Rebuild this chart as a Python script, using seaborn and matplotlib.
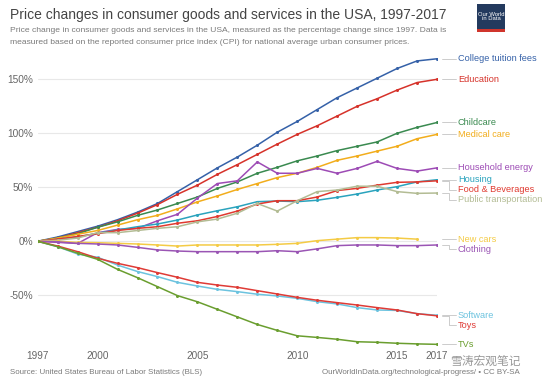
import numpy as np
import pandas as pd
import matplotlib.pyplot as plt
import seaborn as sns
from matplotlib.patches import Rectangle

# yearly % change since 1997
years = list(range(1997, 2018))
college_tuition = [0, 4, 9, 14, 20, 27, 35, 46, 57, 68, 78, 89, 101, 111, 122, 133, 142, 151, 160, 167, 169]
education = [0, 3, 8, 13, 19, 26, 34, 43.5, 52, 62, 71, 80.5, 90, 99, 107, 116, 125, 132, 140, 147, 150]
childcare = [0, 3, 7, 13, 18, 24, 29, 35, 41, 49, 55, 63, 68.5, 74.5, 79, 84, 88, 92, 100, 105.5, 110]
medical_care = [0, 3, 6.5, 10, 15, 20, 24, 30, 36.5, 42, 48, 53.5, 59, 63, 68.5, 75, 79, 83.5, 88, 95, 99]
household_energy = [0, -1, -2, 8, 11, 12, 19, 25, 40, 53.5, 56, 73.5, 63, 63, 67.5, 63, 67.5, 74, 67.5, 65, 68]
housing = [0, 2, 4, 7.5, 10.5, 13.5, 16, 19.7, 24.4, 28.3, 32, 36.7, 37.3, 36.7, 38, 40.7, 43.8, 47.5, 50.6, 55, 57]
food_beverages = [0, 2, 4.5, 7, 10, 12, 13.5, 16.7, 19, 23, 28, 34.5, 37.6, 37.6, 41, 47, 49, 52, 54.6, 55, 56]
public_transport = [0, 1, 3, 8, 8, 10, 12, 13.5, 18, 20.6, 26, 35, 28, 37.6, 46, 47.5, 51, 51, 46, 44.4, 44.7]
new_cars = [0, 0, -1, -1.3, -1.9, -2.5, -3.4, -4.4, -3.4, -3.4, -3.4, -3.4, -2.8, -1.9, 0.6, 2, 3.4, 3.4, 3, 2, None]
clothing = [0, -0.5, -1.9, -2.5, -3.4, -5.6, -8, -9, -9.6, -9.6, -9.6, -9.6, -8.7, -9.6, -7, -4, -3.4, -3.4, -4, -4, -3.4]
software = [0, -5, -11.8, -14.8, -22, -28, -32.7, -38, -41.4, -44.5, -46.6, -49, -50.6, -52.8, -55.9, -58, -61.4, -63.6, -64, -67, -68.5]
toys = [0, -4.4, -9.6, -15.7, -20.4, -24.4, -29, -33.3, -38, -40.5, -42.6, -45.7, -48.8, -51.9, -54.6, -56.8, -59, -61.4, -63.6, -67, -69]
tvs = [0, -5, -11, -16.7, -26, -33.7, -42, -50.3, -56, -63, -70, -77, -82.5, -87.5, -89, -90.7, -93, -93.5, -94.4, -95, -95.4]

series_names = ["College tuition fees", "Education", "Childcare", "Medical care",
                "Household energy", "Housing", "Food & Beverages", "Public transportation",
                "New cars", "Clothing", "Software", "Toys", "TVs"]
series_values = [college_tuition, education, childcare, medical_care, household_energy,
                 housing, food_beverages, public_transport, new_cars, clothing,
                 software, toys, tvs]
series_colors = ["#3561a8", "#d6322a", "#3a8a50", "#f2ad1c", "#9d4bb5", "#2aa3bd",
                 "#e0392f", "#b3bc94", "#f4cb45", "#9a55b4", "#6cc3df", "#df3b36", "#6a9e2f"]

y_ticks = [-50, 0, 50, 100, 150]
x_ticks = [1997, 2000, 2005, 2010, 2015, 2017]

rows = []
for name, vals in zip(series_names, series_values):
    for yr, v in zip(years, vals):
        if v is not None:
            rows.append((name, yr, v))
df = pd.DataFrame(rows, columns=["series", "year", "change"])

sns.set_style("white")
plt.rcParams["font.family"] = ["Liberation Sans", "Noto Sans CJK SC", "DejaVu Sans"]

W, H = 550, 387
fig = plt.figure(figsize=(W / 100, H / 100), dpi=100)
ax = fig.add_axes([37.7 / W, 1 - 349.3 / H, (437 - 37.7) / W, (349.3 - 57.7) / H])

sns.lineplot(data=df, x="year", y="change", hue="series", hue_order=series_names,
             palette=series_colors, marker="o", markersize=2.2, markeredgewidth=0,
             linewidth=1.1, legend=False, ax=ax)

ax.set_xlim(1997, 2017)
ax.set_ylim(-100, 170)
ax.set_yticks(y_ticks)
ax.set_yticklabels([f"{v}%" for v in y_ticks])
ax.set_xticks(x_ticks)
ax.set_xticklabels([str(v) for v in x_ticks])
ax.tick_params(axis="y", length=0, labelsize=7.3, labelcolor="#666666", pad=3.4)
ax.tick_params(axis="x", length=0, labelsize=7.2, labelcolor="#666666", pad=1.5)
ax.set_xlabel("")
ax.set_ylabel("")
ax.grid(axis="y", color="#e8e8e8", linewidth=0.8)
ax.grid(axis="x", visible=False)
ax.set_axisbelow(True)
sns.despine(ax=ax, left=True, bottom=True)

# end labels, pushed down so they don't overlap
ends = []
for name, vals, col in zip(series_names, series_values, series_colors):
    last = [v for v in vals if v is not None][-1]
    ends.append((last, name, col))
ends.sort(key=lambda t: -t[0])
gap = 9.3
prev = None
for end, name, col in ends:
    lab = end if prev is None else min(end, prev - gap)
    prev = lab
    ax.plot([2017.27, 2017.6, 2017.6, 2017.95], [end, end, lab, lab],
            color="#c4c4c4", lw=0.6, clip_on=False)
    ax.text(2018.05, lab, name, color=col, fontsize=6.6, va="center", ha="left",
            clip_on=False)

# header
fig.text(10 / W, 1 - 15 / H, "Price changes in consumer goods and services in the USA, 1997-2017",
         fontsize=10.0, color="#444444", va="center", ha="left")
fig.text(10 / W, 1 - 30 / H,
         "Price change in consumer goods and services in the USA, measured as the percentage change since 1997. Data is",
         fontsize=6.1, color="#7a7a7a", va="center", ha="left")
fig.text(10 / W, 1 - 42.7 / H,
         "measured based on the reported consumer price index (CPI) for national average urban consumer prices.",
         fontsize=6.1, color="#7a7a7a", va="center", ha="left")

# logo
fig.patches.append(Rectangle((477 / W, 1 - 32 / H), 28 / W, 28 / H, transform=fig.transFigure,
                             facecolor="#233a5e", edgecolor="none"))
fig.patches.append(Rectangle((477 / W, 1 - 32 / H), 28 / W, 3 / H, transform=fig.transFigure,
                             facecolor="#d0352c", edgecolor="none"))
fig.text(491 / W, 1 - 16.5 / H, "Our World\nin Data", fontsize=4.2, color="white",
         ha="center", va="center", linespacing=1.0)

# footer
fig.text(10 / W, 1 - 373 / H, "Source: United States Bureau of Labor Statistics (BLS)",
         fontsize=5.7, color="#7a7a7a", va="center", ha="left")
fig.text(520 / W, 1 - 373 / H, "OurWorldInData.org/technological-progress/ \u2022 CC BY-SA",
         fontsize=5.7, color="#7a7a7a", va="center", ha="right")

# watermark
fig.text(450 / W, 1 - 361 / H, "雪涛宏观笔记", fontsize=8.5, color="#777777", alpha=0.75,
         va="center", ha="left", family=["Noto Sans CJK SC", "DejaVu Sans"])

fig.savefig("out.png", dpi=100)
